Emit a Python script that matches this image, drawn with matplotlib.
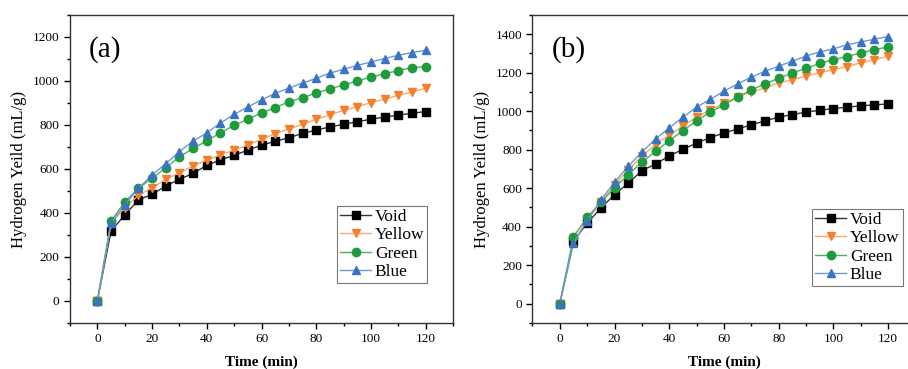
import matplotlib
matplotlib.use("Agg")
import matplotlib.pyplot as plt
from matplotlib.ticker import AutoMinorLocator, MultipleLocator

plt.rcParams['font.family'] = ['Liberation Serif', 'DejaVu Serif']

time_min = [0, 5, 10, 15, 20, 25, 30, 35, 40, 45, 50, 55, 60,
            65, 70, 75, 80, 85, 90, 95, 100, 105, 110, 115, 120]

# panel (a)
void_a = [0, 318, 391, 459, 485, 523, 553, 580, 617, 641, 662, 686, 708,
          726, 742, 762, 777, 791, 803, 815, 826, 836, 845, 853, 861]
yellow_a = [0, 352, 424, 480, 515, 553, 583, 614, 639, 664, 686, 709, 735,
            761, 782, 803, 826, 845, 867, 882, 902, 917, 935, 950, 967]
green_a = [0, 364, 450, 512, 558, 606, 655, 694, 727, 765, 798, 826, 855,
           879, 905, 924, 945, 964, 982, 1000, 1017, 1033, 1047, 1061, 1065]
blue_a = [0, 353, 436, 512, 573, 624, 679, 727, 764, 809, 848, 882, 914,
          944, 967, 991, 1012, 1036, 1053, 1071, 1086, 1102, 1117, 1129, 1139]

# panel (b)
void_b = [0, 327, 418, 497, 567, 626, 691, 726, 768, 802, 835, 863, 887,
          908, 929, 950, 969, 983, 995, 1005, 1014, 1021, 1028, 1033, 1038]
yellow_b = [0, 324, 435, 527, 617, 695, 768, 827, 877, 924, 969, 1007, 1041,
            1073, 1100, 1121, 1147, 1164, 1182, 1201, 1215, 1232, 1251, 1267, 1286]
green_b = [0, 348, 449, 527, 601, 671, 735, 792, 847, 899, 951, 995, 1034,
           1073, 1111, 1142, 1171, 1199, 1223, 1248, 1268, 1284, 1303, 1320, 1334]
blue_b = [0, 314, 431, 539, 631, 714, 787, 856, 913, 969, 1021, 1062, 1104,
          1142, 1177, 1208, 1234, 1260, 1287, 1308, 1324, 1345, 1360, 1374, 1388]

labels = ['Void', 'Yellow', 'Green', 'Blue']
markers = ['s', 'v', 'o', '^']
colors = ['#000000', '#f47f2c', '#1f9a3c', '#3b73c4']
line_colors = ['#333333', '#f9a870', '#4cb05e', '#6d98d6']

fig = plt.figure(figsize=(9.08, 3.69), dpi=100)
ax_a = fig.add_axes([0.0771, 0.1247, 0.4218, 0.8347])
ax_b = fig.add_axes([0.5864, 0.1247, 0.4218, 0.8347])


def draw_panel(ax, series, tag, ylim, ymajor, legend_anchor):
    for vals, lab, mk, c, lc in zip(series, labels, markers, colors, line_colors):
        ax.plot(time_min, vals, color=lc, linewidth=1.0, marker=mk,
                markersize=6, markerfacecolor=c, markeredgecolor=c,
                label=lab)
    ax.set_xlim(-10, 130)
    ax.set_ylim(*ylim)
    ax.xaxis.set_major_locator(MultipleLocator(20))
    ax.xaxis.set_minor_locator(AutoMinorLocator(2))
    ax.yaxis.set_major_locator(MultipleLocator(ymajor))
    ax.yaxis.set_minor_locator(AutoMinorLocator(2))
    ax.tick_params(which='both', direction='out', top=False, right=False,
                   labelsize=9.5, width=1.0)
    ax.tick_params(which='major', length=4)
    ax.tick_params(which='minor', length=2.5)
    for sp in ax.spines.values():
        sp.set_linewidth(1.0)
        sp.set_color('#333333')
    ax.set_xlabel('Time (min)', fontsize=11, fontweight='bold', labelpad=7)
    ax.set_ylabel('Hydrogen Yeild (mL/g)', fontsize=12, labelpad=4)
    ax.text(0.05, 0.93, tag, transform=ax.transAxes, fontsize=21,
            va='top', ha='left')
    leg = ax.legend(loc='lower left', bbox_to_anchor=legend_anchor,
                    fontsize=12.5, frameon=True, fancybox=False,
                    handlelength=1.8, handletextpad=0.2, borderpad=0.18,
                    labelspacing=0.12, borderaxespad=0)
    leg.get_frame().set_edgecolor('#555555')
    leg.get_frame().set_linewidth(0.8)


draw_panel(ax_a, [void_a, yellow_a, green_a, blue_a], '(a)', (-100, 1300), 200,
           (0.697, 0.13))
draw_panel(ax_b, [void_b, yellow_b, green_b, blue_b], '(b)', (-100, 1500), 200,
           (0.730, 0.12))

fig.savefig('out.png', dpi=100)
